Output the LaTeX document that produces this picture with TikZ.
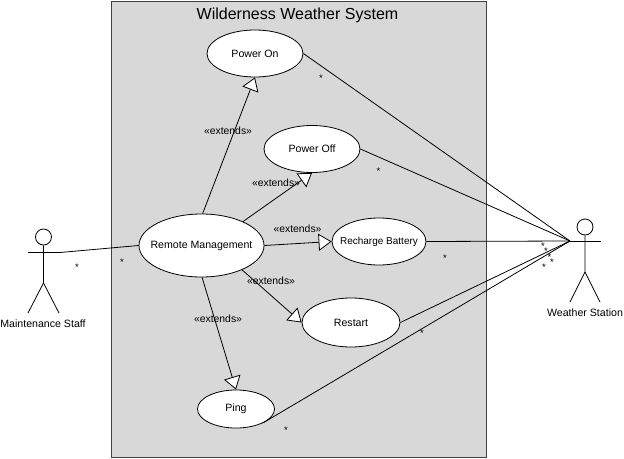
\documentclass[tikz,border=0pt]{standalone}
\usepackage{fontspec}
\setmainfont{Liberation Sans}
\usepackage{xcolor}
\usetikzlibrary{arrows.meta,shapes.geometric,positioning}
\definecolor{sysgrey}{HTML}{D8D8D8}
\newcommand{\ucname}[1]{\makebox[0pt]{#1}}
\tikzset{
  sysbox/.style={draw=black!75, fill=sysgrey, line width=0.9pt},
  usecase/.style={ellipse, draw=black, fill=white, inner sep=0pt, line width=0.8pt, font=\fontsize{10.6}{12}\selectfont},
  head/.style={circle, draw=black, fill=white, inner sep=0pt, minimum size=16pt, line width=0.8pt},
  limb/.style={draw=black, line width=0.8pt},
  assoc/.style={draw=black, line width=0.8pt},
  extends/.style={draw=black, line width=0.8pt, -{Triangle[open, fill=white, length=13pt, width=17pt, line width=0.8pt]}},
  stereo/.style={inner sep=0pt, font=\fontsize{10.4}{12}\selectfont},
  actorname/.style={inner sep=0pt, font=\fontsize{10.6}{12}\selectfont},
  mult/.style={inner sep=0pt, font=\fontsize{9.5}{10}\selectfont}
}
\begin{document}
\begin{tikzpicture}[x=1pt,y=-1pt]
	\useasboundingbox (0,0) rectangle (624,458);
	% system boundary
	\node[sysbox, minimum width=375pt, minimum height=456pt, anchor=north west, inner sep=0pt] (system) at (111,1) {};
	\node[inner sep=0pt, font=\fontsize{16}{18}\selectfont] (title) at (297.5,15) {Wilderness Weather System};
	% use cases
	\node[usecase, minimum width=96pt, minimum height=47pt] (poweron) at (255,53.5) {\ucname{Power On}};
	\node[usecase, minimum width=96pt, minimum height=47pt] (poweroff) at (312,149) {\ucname{Power Off}};
	\node[usecase, minimum width=125pt, minimum height=63pt] (remote) at (201.5,245.5) {\ucname{Remote Management}};
	\node[usecase, minimum width=94pt, minimum height=47pt, font=\fontsize{10}{12}\selectfont] (recharge) at (379,241.5) {\ucname{Recharge Battery}};
	\node[usecase, minimum width=98pt, minimum height=49pt] (restart) at (351,322.5) {\ucname{Restart}};
	\node[usecase, minimum width=77pt, minimum height=38pt] (ping) at (236,409) {\ucname{Ping}};
	% maintenance staff
	\node[head] (mhead) at (43.5,237) {};
	\coordinate (marml) at (28,252.5);
	\coordinate (marmr) at (60,252.5);
	\coordinate (mhip) at (43.5,283);
	\coordinate (mfootl) at (28,313);
	\coordinate (mfootr) at (59,313);
	\draw[limb] (mhead.south) -- (mhip) -- (mfootl);
	\draw[limb] (mhip) -- (mfootr);
	\draw[limb] (marml) -- (marmr);
	\node[actorname] (mname) at (43,324) {Maintenance Staff};
	% weather station
	\node[head] (whead) at (585,227) {};
	\coordinate (warml) at (570,241);
	\coordinate (warmr) at (601,241);
	\coordinate (whip) at (585,272);
	\coordinate (wfootl) at (570,302);
	\coordinate (wfootr) at (600,302);
	\draw[limb] (whead.south) -- (whip) -- (wfootl);
	\draw[limb] (whip) -- (wfootr);
	\draw[limb] (warml) -- (warmr);
	\node[actorname] (wname) at (585,313) {Weather Station};
	% associations
	\draw[assoc] (marmr) -- (remote.west);
	\draw[assoc] (poweron.east) -- (warml);
	\draw[assoc] (poweroff.east) -- (warml);
	\draw[assoc] (recharge.east) -- (warml);
	\draw[assoc] (restart.east) -- (warml);
	\draw[assoc] (ping.-28) -- (warml);
	% extends
	\draw[extends] (remote.88) -- (poweron.south);
	\draw[extends] (remote.30) -- (poweroff.south);
	\draw[extends] (remote.east) -- (recharge.west);
	\draw[extends] (remote.-31) -- (restart.west);
	\draw[extends] (remote.-89) -- (ping.north);
	\node[stereo] (exon) at (228,131) {«extends»};
	\node[stereo] (exoff) at (276,183) {«extends»};
	\node[stereo] (exrech) at (297.5,228.5) {«extends»};
	\node[stereo] (exrest) at (271,281) {«extends»};
	\node[stereo] (exping) at (218,318.5) {«extends»};
	% multiplicities
	\node[mult] (s1) at (77,267) {*};
	\node[mult] (s2) at (122,262.5) {*};
	\node[mult] (s3) at (321,78) {*};
	\node[mult] (s4) at (378.5,171) {*};
	\node[mult] (s5) at (445,258) {*};
	\node[mult] (s6) at (422,333) {*};
	\node[mult] (s7) at (286,430) {*};
	\node[mult] (s8) at (543,246) {*};
	\node[mult] (s9) at (546,251) {*};
	\node[mult] (s10) at (549.5,257) {*};
	\node[mult] (s11) at (552,262) {*};
	\node[mult] (s12) at (544,267) {*};
\end{tikzpicture}
\end{document}
